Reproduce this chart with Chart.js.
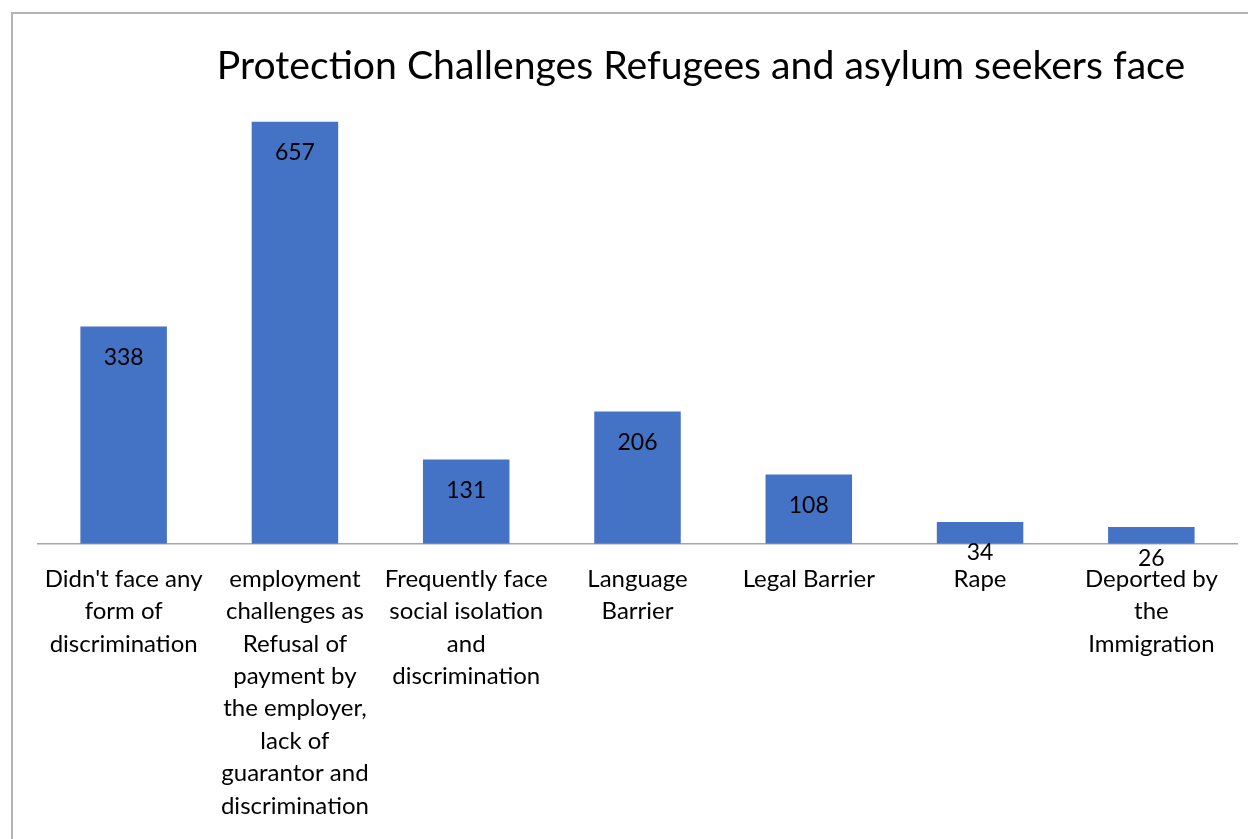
<!DOCTYPE html>
<html>
<head>
<meta charset="utf-8">
<script src="https://cdn.jsdelivr.net/npm/chart.js@4"></script>
<style>
  body { margin: 0; background: #fff; }
  #wrap {
    position: absolute; left: 11px; top: 12px;
    width: 1237px; height: 827px;
    border-left: 2px solid #b4b4b4; border-top: 2px solid #b4b4b4;
  }
</style>
</head>
<body>
<div id="wrap"><canvas id="myChart"></canvas></div>
<script>
// categories (already wrapped the way the original shows them)
var categories = [
  ["Didn't face any", "form of", "discrimination"],
  ["employment", "challenges as", "Refusal of", "payment by", "the employer,", "lack of", "guarantor and", "discrimination"],
  ["Frequently face", "social isolation", "and", "discrimination"],
  ["Language", "Barrier"],
  ["Legal Barrier"],
  ["Rape"],
  ["Deported by", "the", "Immigration"],
];
var counts = [338, 657, 131, 206, 108, 34, 26];
var chartTitle = "Protection Challenges Refugees and asylum seekers face";

var FONT = "Lato";

// value labels near the top of each bar (inside end)
var valueLabels = {
  id: "valueLabels",
  afterDatasetsDraw: function (chart) {
    var c = chart.ctx;
    var meta = chart.getDatasetMeta(0);
    c.save();
    c.font = "23px " + FONT;
    c.fillStyle = "#000";
    c.textAlign = "center";
    c.textBaseline = "middle";
    meta.data.forEach(function (bar, i) {
      c.fillText(counts[i], bar.x, bar.y + 31);
    });
    c.restore();
  },
};

// title sits right of center in the original
var titlePlugin = {
  id: "titlePlugin",
  afterDraw: function (chart) {
    var c = chart.ctx;
    c.save();
    c.font = "39.2px " + FONT;
    c.fillStyle = "#000";
    c.textAlign = "center";
    c.textBaseline = "middle";
    c.fillText(chartTitle, 688, 52);
    c.restore();
  },
};

var ctx = document.getElementById("myChart");
var myChart = new Chart(ctx, {
  type: "bar",
  data: {
    labels: categories,
    datasets: [
      {
        label: "Count",
        data: counts,
        backgroundColor: "#4472C4",
        borderWidth: 0,
        categoryPercentage: 1,
        barPercentage: 0.505,
      },
    ],
  },
  options: {
    responsive: true,
    maintainAspectRatio: false,
    animation: false,
    layout: {
      padding: { left: 25, right: 13, top: 80, bottom: 8 },
    },
    plugins: {
      legend: { display: false },
      tooltip: { enabled: false },
    },
    scales: {
      x: {
        grid: { display: false },
        border: { display: true, color: "#a6a6a6", width: 1.5 },
        ticks: {
          color: "#000",
          maxRotation: 0,
          autoSkip: false,
          padding: 11,
          font: { family: FONT, size: 24, lineHeight: 1.35 },
        },
      },
      y: {
        display: false,
        min: 0,
        max: 700,
      },
    },
  },
  plugins: [valueLabels, titlePlugin],
});
</script>
</body>
</html>
